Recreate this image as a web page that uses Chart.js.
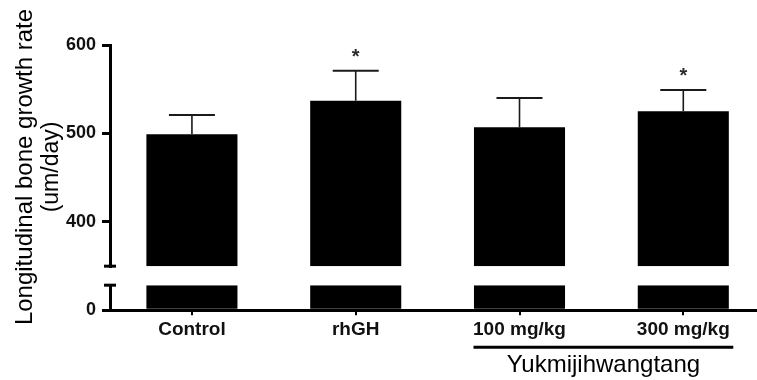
<!DOCTYPE html>
<html><head><meta charset="utf-8">
<script src="https://cdn.jsdelivr.net/npm/chart.js@4/dist/chart.umd.min.js"></script>
<style>html,body{margin:0;padding:0;background:#fff;overflow:hidden}</style>
</head><body>
<canvas id="c" width="757" height="380"></canvas>
<script>
// ---- data ----
const categories = ['Control', 'rhGH', '100 mg/kg', '300 mg/kg'];
const growthMeans = [499, 537, 507, 525];
const growthErrors = [22, 34, 33, 24];
const significance = ['', '*', '', '*'];
const upperTicks = [400, 500, 600];
const lowerTicks = [0];
const groupLabel = 'Yukmijihwangtang';
const groupMembers = [2, 3];
const yTitle = ['Longitudinal bone growth rate', '(um/day)'];
const UP_MIN = 350, UP_MAX = 600, LOW_MIN = 0, LOW_MAX = 50;

const FONT = "'Liberation Sans', Arial, sans-serif";
Chart.defaults.font.family = FONT;
Chart.defaults.color = '#000';

const overlay = {
  id: 'overlay',
  afterDatasetsDraw(chart) {
    const { ctx, scales: { x, yUp } } = chart;
    ctx.save();
    ctx.strokeStyle = '#1a1a1a';
    growthMeans.forEach((m, i) => {
      const cx = x.getPixelForValue(i);
      const y0 = yUp.getPixelForValue(m);
      const y1 = yUp.getPixelForValue(m + growthErrors[i]);
      ctx.lineWidth = 1.6;
      ctx.beginPath(); ctx.moveTo(cx, y0); ctx.lineTo(cx, y1); ctx.stroke();
      ctx.lineWidth = 2;
      ctx.beginPath(); ctx.moveTo(cx - 23, y1); ctx.lineTo(cx + 23, y1); ctx.stroke();
      if (significance[i]) {
        ctx.fillStyle = '#2a2a2a';
        ctx.font = 'bold 20px ' + FONT;
        ctx.textAlign = 'center';
        ctx.textBaseline = 'alphabetic';
        ctx.fillText(significance[i], cx, y1 - 8);
      }
    });
    ctx.restore();
  },
  afterDraw(chart) {
    const { ctx, chartArea, scales: { x, yUp, yLow } } = chart;
    const ax = chartArea.left;
    ctx.save();
    // axis break caps
    ctx.strokeStyle = '#000';
    ctx.lineWidth = 3;
    [yUp.getPixelForValue(UP_MIN), yLow.getPixelForValue(LOW_MAX)].forEach(py => {
      ctx.beginPath(); ctx.moveTo(ax - 6, py); ctx.lineTo(ax + 6, py); ctx.stroke();
    });
    // y title
    const cy = yUp.top + (yLow.bottom - yUp.top) * 0.46;
    ctx.fillStyle = '#000';
    ctx.font = '24px ' + FONT;
    ctx.textAlign = 'center';
    ctx.textBaseline = 'middle';
    ctx.translate(ax - 85, cy);
    ctx.rotate(-Math.PI / 2);
    ctx.fillText(yTitle[0], 0, 0);
    ctx.font = '23px ' + FONT;
    ctx.fillText(yTitle[1], 0, 27);
    ctx.setTransform(1, 0, 0, 1, 0, 0);
    // group label
    const gx0 = x.getPixelForValue(groupMembers[0]) - 46;
    const gx1 = x.getPixelForValue(groupMembers[1]) + 50;
    const gy = yLow.bottom + 37;
    ctx.lineWidth = 3;
    ctx.beginPath(); ctx.moveTo(gx0, gy); ctx.lineTo(gx1, gy); ctx.stroke();
    ctx.font = '24px ' + FONT;
    ctx.textBaseline = 'alphabetic';
    ctx.fillText(groupLabel, (x.getPixelForValue(groupMembers[0]) + x.getPixelForValue(groupMembers[1])) / 2 + 2, yLow.bottom + 62);
    ctx.restore();
  }
};

const barCommon = { backgroundColor: '#000', borderWidth: 0, grouped: false, categoryPercentage: 1, barPercentage: 0.556 };
const upperPoints = growthMeans.map((v, i) => ({ x: i, y: v }));
const lowerPoints = growthMeans.map((v, i) => ({ x: i, y: Math.min(v, LOW_MAX) }));

new Chart(document.getElementById('c'), {
  type: 'bar',
  data: {
    datasets: [
      Object.assign({ data: upperPoints, yAxisID: 'yUp', base: UP_MIN }, barCommon),
      Object.assign({ data: lowerPoints, yAxisID: 'yLow', base: LOW_MIN }, barCommon)
    ]
  },
  options: {
    responsive: false,
    animation: false,
    devicePixelRatio: 1,
    layout: { padding: { left: 60, right: 0, top: 45, bottom: 36 } },
    plugins: { legend: { display: false }, tooltip: { enabled: false } },
    scales: {
      x: {
        type: 'linear',
        min: -0.5, max: 3.45,
        offset: false,
        afterBuildTicks: s => { s.ticks = categories.map((c, i) => ({ value: i })); },
        grid: { display: true, offset: false, drawOnChartArea: false, tickLength: 5, lineWidth: 2, color: '#000' },
        border: { display: true, width: 3, color: '#000' },
        ticks: { font: { size: 19, weight: 'bold' }, color: '#111', padding: 3, maxRotation: 0, autoSkip: false,
                 callback: v => categories[v] }
      },
      yUp: {
        type: 'linear', position: 'left', stack: 'yaxis', stackWeight: 221, weight: 3,
        min: UP_MIN, max: UP_MAX,
        afterBuildTicks: s => { s.ticks = upperTicks.map(v => ({ value: v })); },
        ticks: { font: { size: 18, weight: 'bold' }, color: '#111', padding: 6 },
        grid: { drawOnChartArea: false, tickLength: 8, lineWidth: 3, color: '#000' },
        border: { display: true, width: 3, color: '#000' }
      },
      yGap: {
        type: 'linear', position: 'left', stack: 'yaxis', stackWeight: 19, weight: 2,
        min: 0, max: 1,
        ticks: { display: false }, grid: { display: false }, border: { display: false }
      },
      yLow: {
        type: 'linear', position: 'left', stack: 'yaxis', stackWeight: 25, weight: 1,
        min: LOW_MIN, max: LOW_MAX,
        afterBuildTicks: s => { s.ticks = lowerTicks.map(v => ({ value: v })); },
        ticks: { font: { size: 18, weight: 'bold' }, color: '#111', padding: 6 },
        grid: { drawOnChartArea: false, tickLength: 8, lineWidth: 3, color: '#000' },
        border: { display: true, width: 3, color: '#000' }
      }
    }
  },
  plugins: [overlay]
});
</script>
</body></html>
